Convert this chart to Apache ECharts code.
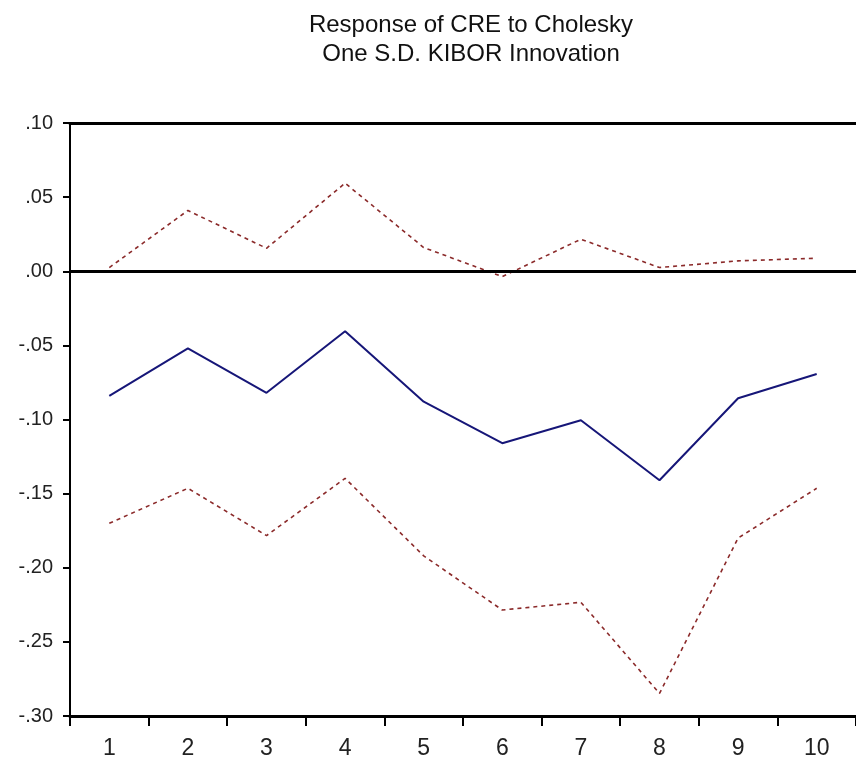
<!DOCTYPE html>
<html>
<head>
<meta charset="utf-8">
<script src="https://cdn.jsdelivr.net/npm/echarts@6/dist/echarts.min.js"></script>
<style>
html,body{margin:0;padding:0;background:#fff;}
#chart{width:856px;height:763px;}
</style>
</head>
<body>
<div id="chart"></div>
<script>
var periods = ['1','2','3','4','5','6','7','8','9','10'];
var response = [-0.084, -0.052, -0.082, -0.0405, -0.088, -0.116, -0.1005, -0.141, -0.0857, -0.0693];
var upperBand = [0.0025, 0.041, 0.0155, 0.0594, 0.016, -0.0036, 0.0216, 0.0025, 0.007, 0.0088];
var lowerBand = [-0.170, -0.1464, -0.1783, -0.1397, -0.192, -0.2285, -0.2233, -0.2848, -0.180, -0.1464];
var titleLines = ['Response of CRE to Cholesky', 'One S.D. KIBOR Innovation'];

var FONT = '"Liberation Sans", Arial, sans-serif';
function fmt(v) {
  var r = Math.round(v * 100) / 100;
  var s = r.toFixed(2);
  if (s === '-0.00') s = '0.00';
  return s.replace(/^(-?)0\./, '$1.');
}

var chart = echarts.init(document.getElementById('chart'));
chart.setOption({
  animation: false,
  backgroundColor: '#ffffff',
  title: {
    text: titleLines.join('\n'),
    left: 466,
    textAlign: 'center',
    top: 6,
    textStyle: { fontFamily: FONT, fontSize: 24, fontWeight: 'normal', color: '#111', lineHeight: 29 }
  },
  grid: { left: 70, top: 123, width: 793, height: 593, containLabel: false },
  xAxis: [{
    type: 'category',
    data: periods,
    boundaryGap: true,
    position: 'bottom',
    axisLine: { show: true, onZero: false, lineStyle: { color: '#000', width: 3 } },
    axisTick: { show: true, length: 10, lineStyle: { color: '#000', width: 2 } },
    axisLabel: { margin: 21, fontFamily: FONT, fontSize: 23, color: '#222' },
    splitLine: { show: false }
  }, {
    type: 'category',
    data: periods,
    boundaryGap: true,
    position: 'top',
    axisLine: { show: true, onZero: false, lineStyle: { color: '#000', width: 3 } },
    axisTick: { show: false },
    axisLabel: { show: false },
    splitLine: { show: false }
  }],
  yAxis: {
    type: 'value',
    min: -0.3,
    max: 0.1,
    interval: 0.05,
    axisLine: { show: true, lineStyle: { color: '#000', width: 2 } },
    axisTick: { show: true, length: 7, lineStyle: { color: '#000', width: 2 } },
    axisLabel: { margin: 17, fontFamily: FONT, fontSize: 20, color: '#222', formatter: fmt },
    splitLine: { show: false }
  },
  series: [{
    name: 'Upper',
    type: 'line',
    data: upperBand,
    symbol: 'none',
    lineStyle: { color: '#8b2a2a', width: 1.6, type: [4, 4] },
    markLine: {
      silent: true,
      symbol: 'none',
      label: { show: false },
      lineStyle: { color: '#000', width: 3, type: 'solid' },
      data: [{ yAxis: 0 }]
    },
    z: 3
  }, {
    name: 'Response',
    type: 'line',
    data: response,
    symbol: 'none',
    lineStyle: { color: '#161678', width: 2, type: 'solid' },
    z: 3
  }, {
    name: 'Lower',
    type: 'line',
    data: lowerBand,
    symbol: 'none',
    lineStyle: { color: '#8b2a2a', width: 1.6, type: [4, 4] },
    z: 3
  }]
});
</script>
</body>
</html>
